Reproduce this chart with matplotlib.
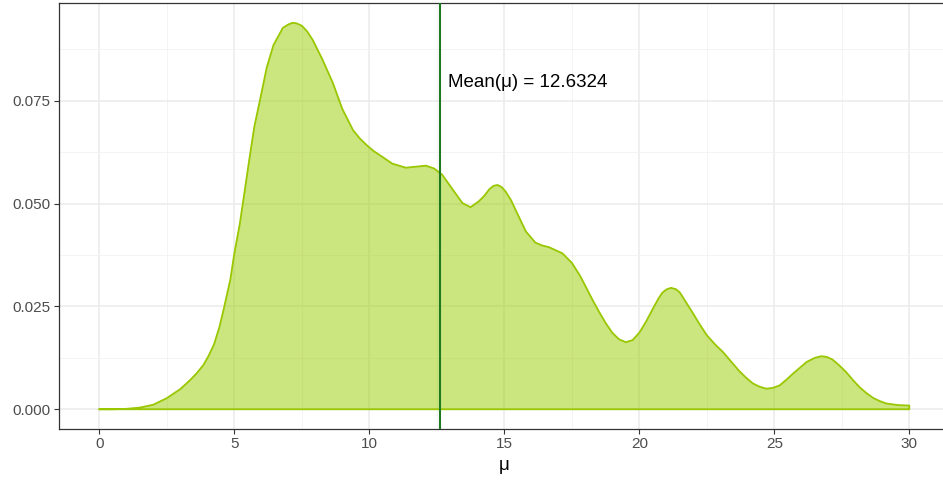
import matplotlib
matplotlib.use("Agg")
import matplotlib.pyplot as plt
from matplotlib.ticker import MultipleLocator

plt.rcParams['font.family'] = ['Liberation Sans', 'DejaVu Sans']

# density estimate of mu
mu = [0.0, 0.5, 1.0, 1.5, 2.0, 2.5, 3.0, 3.35, 3.6, 3.85, 4.05, 4.25, 4.45,
      4.6, 4.75, 4.85, 5.0, 5.2, 5.37, 5.56, 5.74, 5.95, 6.2, 6.45, 6.8,
      7.0, 7.15, 7.3, 7.5, 7.7, 7.9, 8.25, 8.65, 9.0, 9.4, 9.65, 9.9,
      10.15, 10.4, 10.85, 11.35, 11.8, 12.1, 12.4, 12.7, 13.1, 13.45, 13.75,
      14.05, 14.25, 14.45, 14.6, 14.75, 14.9, 15.05, 15.25, 15.45, 15.8,
      16.15, 16.4, 16.65, 17.15, 17.5, 17.8, 18.0, 18.25, 18.5, 18.75, 19.0,
      19.25, 19.5, 19.75, 20.0, 20.25, 20.5, 20.7, 20.85, 21.0, 21.17,
      21.35, 21.5, 21.75, 22.0, 22.25, 22.5, 22.8, 23.1, 23.4, 23.7, 23.95,
      24.2, 24.45, 24.7, 24.95, 25.2, 25.45, 25.7, 25.95, 26.2, 26.5, 26.75,
      26.95, 27.15, 27.4, 27.65, 27.9, 28.15, 28.4, 28.65, 28.9, 29.15,
      29.6, 30.0]
dens = [0.0, 0.0, 0.0001, 0.0004, 0.0011, 0.0027, 0.0049, 0.0070, 0.0087,
        0.0107, 0.0130, 0.0158, 0.0200, 0.0241, 0.0285, 0.0314, 0.0378,
        0.0449, 0.0524, 0.0609, 0.0686, 0.0751, 0.0830, 0.0885, 0.0927,
        0.0935, 0.0939, 0.0938, 0.0932, 0.0918, 0.0898, 0.0852, 0.0793,
        0.0730, 0.0678, 0.0658, 0.0642, 0.0628, 0.0617, 0.0597, 0.0587,
        0.0590, 0.0592, 0.0585, 0.0570, 0.0533, 0.0501, 0.0491, 0.0505,
        0.0518, 0.0535, 0.0543, 0.0545, 0.0540, 0.0529, 0.0508, 0.0480,
        0.0432, 0.0405, 0.0398, 0.0394, 0.0379, 0.0356, 0.0325, 0.0300,
        0.0268, 0.0238, 0.0210, 0.0186, 0.0170, 0.0163, 0.0168, 0.0186,
        0.0213, 0.0244, 0.0268, 0.0283, 0.0291, 0.0295, 0.0292, 0.0284,
        0.0258, 0.0232, 0.0205, 0.0180, 0.0158, 0.0139, 0.0116, 0.0093,
        0.0077, 0.0063, 0.0055, 0.0050, 0.0052, 0.0058, 0.0072, 0.0087,
        0.0101, 0.0115, 0.0125, 0.0129, 0.0127, 0.0121, 0.0107, 0.0091,
        0.0072, 0.0054, 0.0040, 0.0028, 0.0020, 0.0014, 0.0010, 0.0009]
mean_mu = 12.6324
x_ticks = [0, 5, 10, 15, 20, 25, 30]
y_ticks = [0.0, 0.025, 0.05, 0.075]

fig = plt.figure(figsize=(9.43, 4.82), dpi=100)
ax = fig.add_axes([58.8 / 943, 1 - 428.6 / 482, 891 / 943, 425.5 / 482])

# grid
ax.xaxis.set_minor_locator(MultipleLocator(2.5))
ax.yaxis.set_minor_locator(MultipleLocator(0.0125))
ax.grid(which='major', color='#EBEBEB', lw=1.1)
ax.grid(which='minor', color='#F2F2F2', lw=0.6)
ax.set_axisbelow(True)

# closed density polygon
px = [mu[0]] + mu + [mu[-1]]
py = [0.0] + dens + [0.0]
ax.fill(px, py, facecolor=(0.6, 0.8, 0.0, 0.5), edgecolor='#99C700', lw=1.3,
        joinstyle='round', zorder=2)

ax.axvline(mean_mu, color='#1F7A1F', lw=1.5, zorder=3)
ax.text(mean_mu + 0.3, 0.0793, f'Mean(\u03bc) = {mean_mu}', fontsize=13.5,
        ha='left', va='center', color='black')

ax.set_xlim(-1.5, 31.5)
ax.set_ylim(-0.0047, 0.0987)
ax.set_xticks(x_ticks)
ax.set_xticklabels([str(t) for t in x_ticks])
ax.set_yticks(y_ticks)
ax.set_yticklabels([f'{t:.3f}' for t in y_ticks])
ax.tick_params(which='major', length=3.6, width=0.8, color='#333333',
               labelcolor='#4D4D4D', labelsize=11, pad=2.5)
ax.tick_params(which='minor', length=0)
ax.set_xlabel('\u03bc', fontsize=13.5, labelpad=4)

for s in ax.spines.values():
    s.set_color('#333333')
    s.set_linewidth(0.9)

fig.savefig('out.png', dpi=100)
